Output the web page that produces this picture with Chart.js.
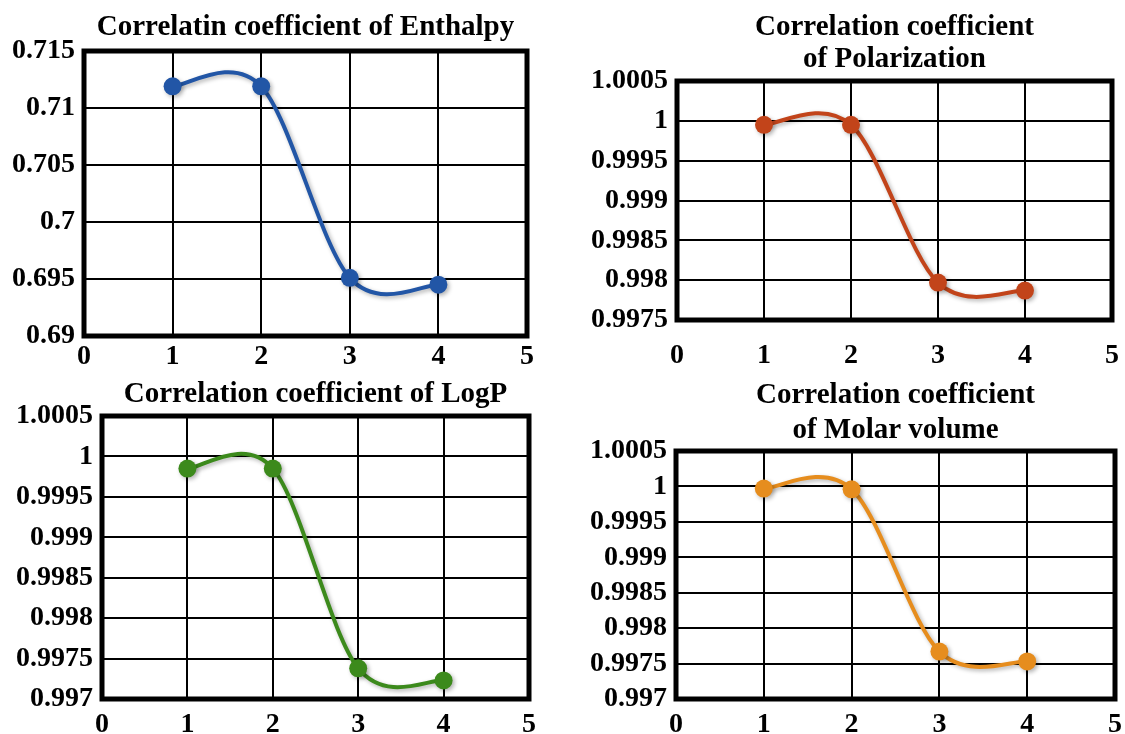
<!DOCTYPE html>
<html>
<head>
<meta charset="utf-8">
<script src="https://cdn.jsdelivr.net/npm/chart.js@4.4.1/dist/chart.umd.min.js"></script>
<style>
    body { margin: 0; background: #fff; }
    #page { position: relative; width: 1125px; height: 734px; overflow: hidden; background: #fff; }
    .panel { position: absolute; }
</style>
</head>
<body>
<div id="page">
    <div class="panel" style="left:0;top:0;width:560px;height:370px"><canvas id="chartEnthalpy"></canvas></div>
    <div class="panel" style="left:560px;top:0;width:565px;height:370px"><canvas id="chartPolarization"></canvas></div>
    <div class="panel" style="left:0;top:370px;width:560px;height:364px"><canvas id="chartLogP"></canvas></div>
    <div class="panel" style="left:560px;top:370px;width:565px;height:364px"><canvas id="chartMolar"></canvas></div>
</div>
<script>
// valores
const xValues = [1, 2, 3, 4];
const xTicks = ['0', '1', '2', '3', '4', '5'];

const enthalpyValues = [0.7119, 0.7119, 0.6951, 0.6945];
const polarizationValues = [0.99995, 0.99995, 0.99797, 0.99787];
const logpValues = [0.99985, 0.99985, 0.99738, 0.99723];
const molarValues = [0.99997, 0.99996, 0.99767, 0.99753];

const enthalpyTicks = ['0.69', '0.695', '0.7', '0.705', '0.71', '0.715'];
const polarizationTicks = ['0.9975', '0.998', '0.9985', '0.999', '0.9995', '1', '1.0005'];
const logpTicks = ['0.997', '0.9975', '0.998', '0.9985', '0.999', '0.9995', '1', '1.0005'];
const molarTicks = ['0.997', '0.9975', '0.998', '0.9985', '0.999', '0.9995', '1', '1.0005'];

const FONT = "'Liberation Serif', 'Times New Roman', serif";

// moldura preta, curva suavizada tipo Excel e leve sombra na linha
const boxPlugin = {
    id: 'box',
    beforeDatasetsDraw(chart) {
        const a = chart.chartArea;
        const ctx = chart.ctx;
        ctx.save();
        ctx.strokeStyle = '#000';
        ctx.lineWidth = 5;
        ctx.strokeRect(a.left, a.top, a.right - a.left, a.bottom - a.top);
        ctx.restore();
    },
    beforeDatasetDraw(chart, args) {
        const meta = args.meta;
        meta.dataset.updateControlPoints(chart.chartArea, meta.iScale.axis);
        const pts = meta.data;
        const n = pts.length;
        for (let i = 0; i < n; i++) {
            const prev = pts[Math.max(i - 1, 0)];
            const next = pts[Math.min(i + 1, n - 1)];
            const dx = (next.x - prev.x) / 6;
            const dy = (next.y - prev.y) / 6;
            pts[i].cp1x = pts[i].x - dx;
            pts[i].cp1y = pts[i].y - dy;
            pts[i].cp2x = pts[i].x + dx;
            pts[i].cp2y = pts[i].y + dy;
        }
        const ctx = chart.ctx;
        ctx.save();
        ctx.shadowColor = 'rgba(0, 0, 0, 0.3)';
        ctx.shadowBlur = 4;
        ctx.shadowOffsetX = 2;
        ctx.shadowOffsetY = 2;
    },
    afterDatasetDraw(chart) {
        chart.ctx.restore();
    }
};

function renderPanel(id, p) {
    const ctx = document.getElementById(id).getContext('2d');
    const yVals = p.ticks.map(t => parseFloat(t));
    const xVals = xTicks.map(t => parseFloat(t));

    return new Chart(ctx, {
        type: 'line',
        data: {
            datasets: [{
                data: xValues.map((x, i) => ({ x: x, y: p.values[i] })),
                borderColor: p.color,
                backgroundColor: p.color,
                borderWidth: 4,
                pointRadius: 9,
                pointBorderWidth: 0,
                tension: 0.4,
                fill: false
            }]
        },
        plugins: [boxPlugin],
        options: {
            responsive: true,
            maintainAspectRatio: false,
            animation: false,
            layout: { padding: { left: 0, right: p.padRight, top: 0, bottom: 0 } },
            plugins: {
                legend: { display: false },
                tooltip: { enabled: false },
                title: {
                    display: true,
                    fullSize: false,
                    text: p.title,
                    color: '#000',
                    font: { family: FONT, size: 29, weight: 'bold', lineHeight: p.titleLh },
                    padding: { top: p.titleTop, bottom: p.titleBottom }
                }
            },
            scales: {
                x: {
                    type: 'linear',
                    min: xVals[0],
                    max: xVals[xVals.length - 1],
                    afterBuildTicks: s => { s.ticks = xVals.map(v => ({ value: v })); },
                    afterFit: s => { s.height = p.xHeight; },
                    ticks: {
                        callback: (v, i) => xTicks[i],
                        color: '#000',
                        padding: 0,
                        autoSkip: false,
                        maxRotation: 0,
                        font: { family: FONT, size: 28, weight: 'bold' }
                    },
                    grid: { color: '#000', lineWidth: 2, drawTicks: true, tickLength: p.xPad, tickColor: 'rgba(0,0,0,0)' },
                    border: { display: false }
                },
                y: {
                    min: yVals[0],
                    max: yVals[yVals.length - 1],
                    afterBuildTicks: s => { s.ticks = yVals.map(v => ({ value: v })); },
                    afterFit: s => { s.width = p.yWidth; },
                    ticks: {
                        callback: (v, i) => p.ticks[i],
                        color: '#000',
                        padding: 9,
                        autoSkip: false,
                        font: { family: FONT, size: 28, weight: 'bold' }
                    },
                    grid: { color: '#000', lineWidth: 2, drawTicks: false },
                    border: { display: false }
                }
            }
        }
    });
}

renderPanel('chartEnthalpy', {
    title: 'Correlatin coefficient of Enthalpy',
    values: enthalpyValues, ticks: enthalpyTicks, color: '#2256a6',
    yWidth: 84, padRight: 33, xHeight: 34, xPad: 4,
    titleLh: '34px', titleTop: 11, titleBottom: 6
});

renderPanel('chartPolarization', {
    title: ['Correlation coefficient', 'of Polarization'],
    values: polarizationValues, ticks: polarizationTicks, color: '#c2441a',
    yWidth: 117, padRight: 13, xHeight: 50, xPad: 19,
    titleLh: '32px', titleTop: 12, titleBottom: 5
});

renderPanel('chartLogP', {
    title: 'Correlation coefficient of LogP',
    values: logpValues, ticks: logpTicks, color: '#3c8a1c',
    yWidth: 102, padRight: 31, xHeight: 35, xPad: 9,
    titleLh: '34px', titleTop: 8, titleBottom: 4
});

renderPanel('chartMolar', {
    title: ['Correlation coefficient', 'of Molar volume'],
    values: molarValues, ticks: molarTicks, color: '#e68d1e',
    yWidth: 116, padRight: 10, xHeight: 35, xPad: 9,
    titleLh: '35px', titleTop: 8, titleBottom: 3
});
</script>
</body>
</html>
